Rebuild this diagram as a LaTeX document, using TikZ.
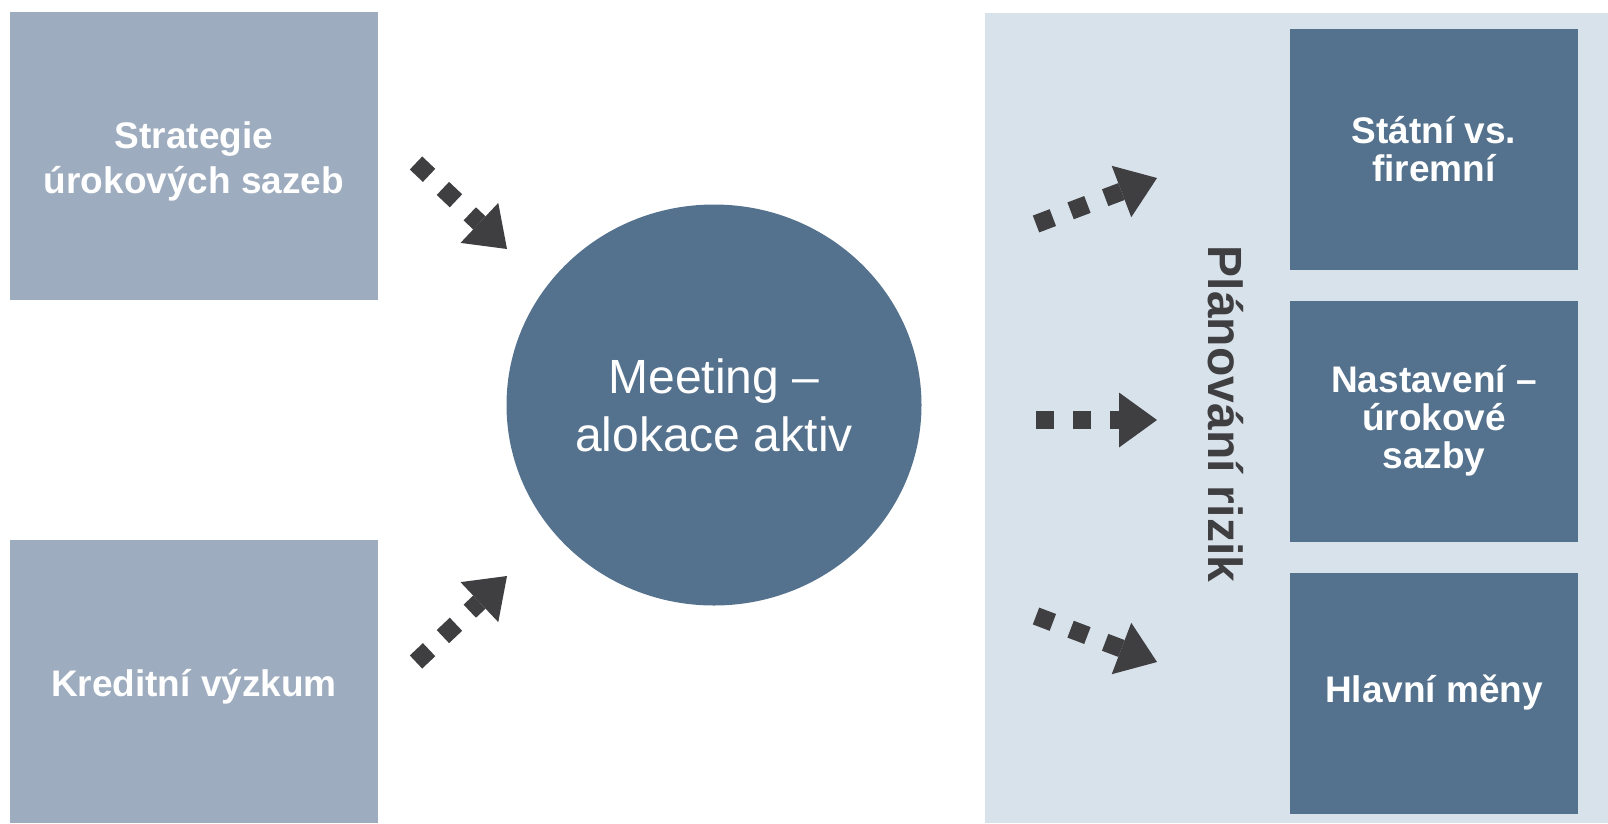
\documentclass[tikz,border=0pt]{standalone}
\usepackage{fontspec}
\setmainfont{Liberation Sans}
\usetikzlibrary{arrows.meta, shapes.geometric}
\definecolor{lightbox}{HTML}{9DACBE}
\definecolor{darkbox}{HTML}{54728D}
\definecolor{panelbg}{HTML}{D8E2EB}
\definecolor{arrowgray}{HTML}{3F3F42}

\begin{document}
\begin{tikzpicture}[x=1pt, y=-1pt,
        leftbox/.style={rectangle, fill=lightbox, minimum width=368pt, inner sep=0pt},
        lefttext/.style={inner sep=0pt, text=white, align=center, font=\bfseries\fontsize{37}{45}\selectfont},
        rightbox/.style={rectangle, fill=darkbox, minimum width=288pt, minimum height=241pt, inner sep=0pt, text=white, align=center, font=\bfseries\fontsize{37}{38}\selectfont},
        dotarrow/.style={draw=arrowgray, line width=18pt, dash pattern=on 18pt off 19pt, -{Triangle[length=38pt, width=55pt, line width=0pt]}}]
        \useasboundingbox (0,0) rectangle (1608,823);

        \node[leftbox, minimum height=288pt] (strat) at (194,156) {};
        \node[lefttext] (strattext) at ([yshift=-5pt]strat.center) {Strategie\\úrokových sazeb};
        \node[leftbox, minimum height=283pt] (kred) at (194,681.5) {};
        \node[lefttext] (kredtext) at ([yshift=-5pt]kred.center) {Kreditní výzkum};

        \node[ellipse, fill=darkbox, minimum width=415pt, minimum height=401pt, inner sep=0pt, text=white, align=center, font=\fontsize{48}{58}\selectfont] (meet) at (714,405) {Meeting –\\alokace aktiv};

        \fill[panelbg] (985,13) rectangle (1608,823);
        \node[rotate=-90, anchor=base, inner sep=0pt, text=arrowgray, font=\bfseries\fontsize{48}{58}\selectfont] (plan) at (1208,414) {Plánování rizik};

        \node[rightbox] (statni) at (1434,149.5) {Státní vs.\\firemní};
        \node[rightbox] (nastav) at (1434,421) {Nastavení –\\úrokové\\sazby};
        \node[rightbox] (meny) at (1434,693) {Hlavní měny};

        \coordinate (S1) at (416,163);
        \coordinate (E1) at (507,249);
        \coordinate (S2) at (416,662);
        \coordinate (E2) at (507,576);
        \draw[dotarrow] (S1) -- (E1);
        \draw[dotarrow] (S2) -- (E2);

        \coordinate (S3) at (1036,224);
        \coordinate (E3) at (1157,178);
        \coordinate (S4) at (1036,420);
        \coordinate (E4) at (1157,420);
        \coordinate (S5) at (1036,616);
        \coordinate (E5) at (1157,662);
        \draw[dotarrow] (S3) -- (E3);
        \draw[dotarrow] (S4) -- (E4);
        \draw[dotarrow] (S5) -- (E5);
    \end{tikzpicture}
\end{document}
